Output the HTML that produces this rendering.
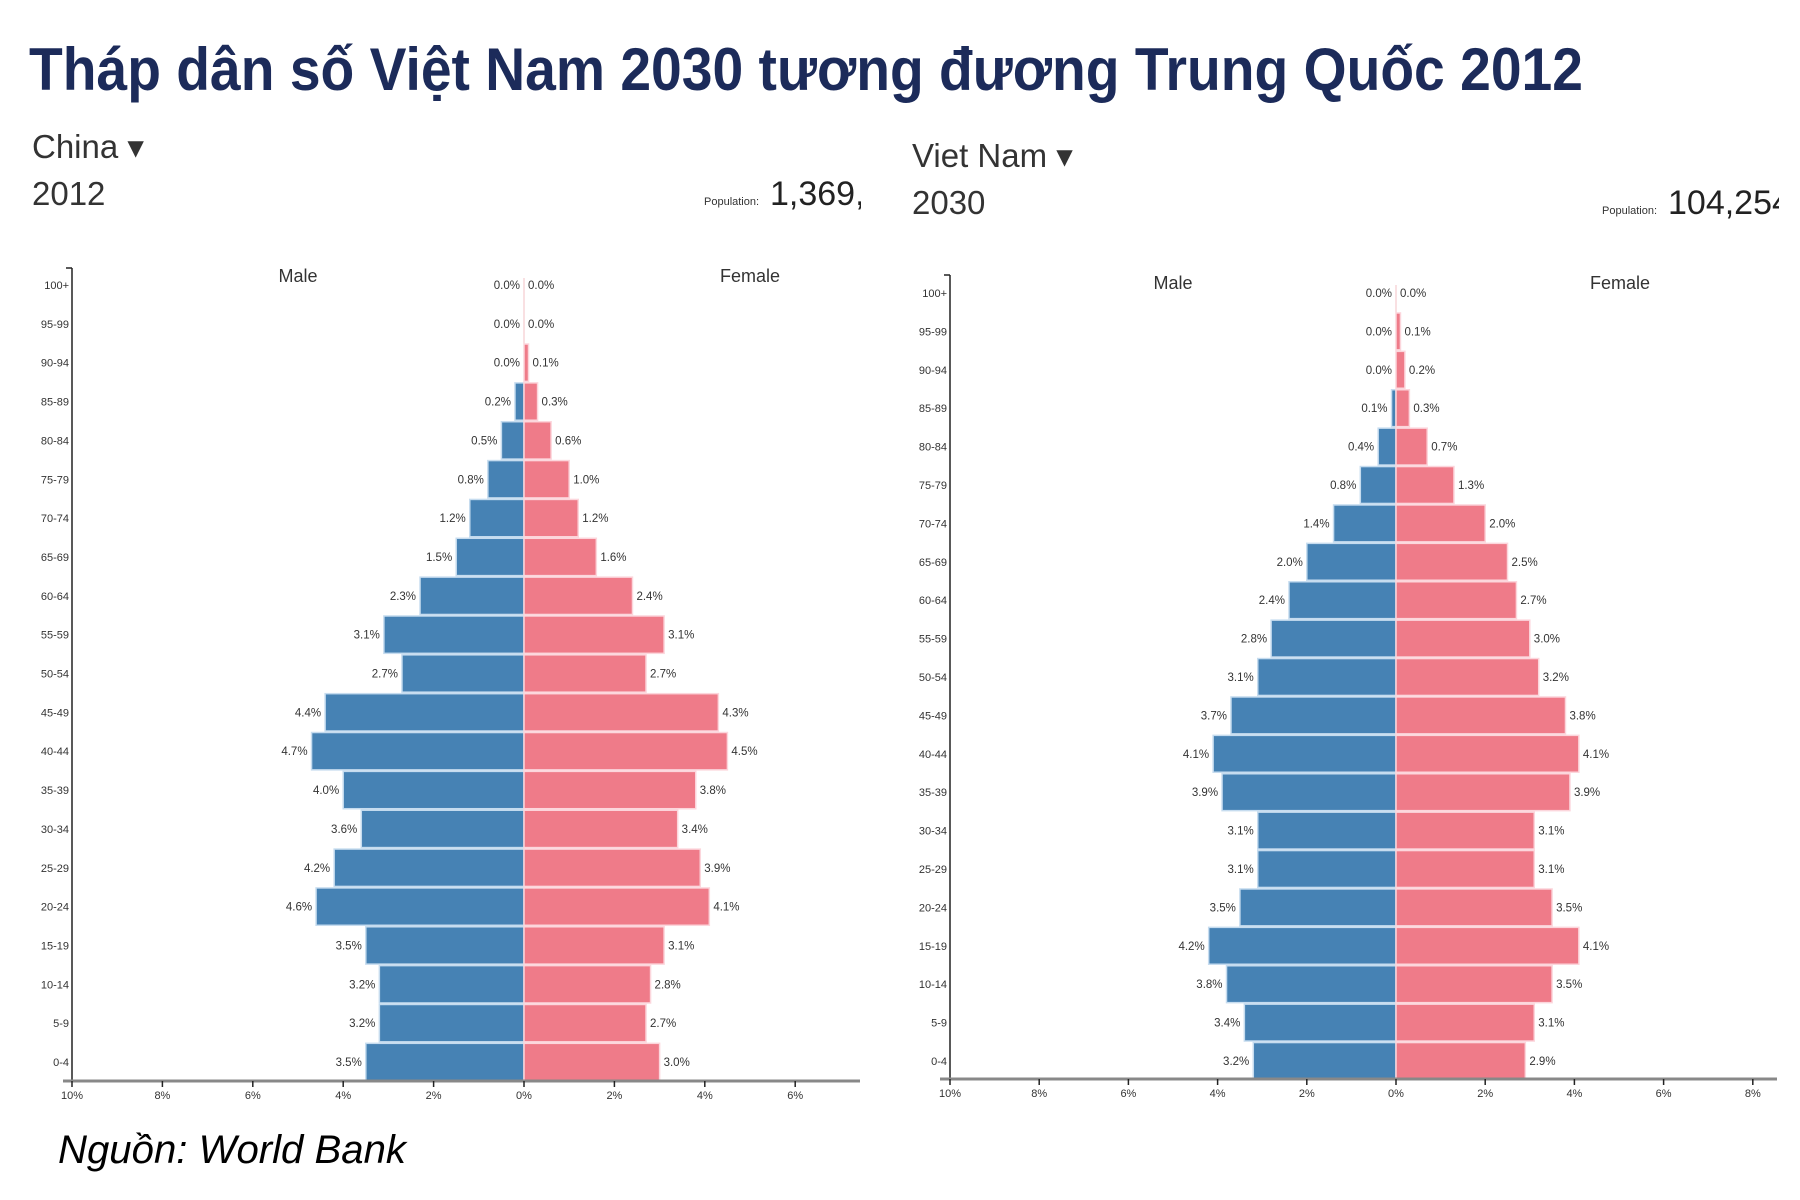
<!DOCTYPE html>
<html><head><meta charset="utf-8"><style>
html,body{margin:0;padding:0;background:#fff;width:1800px;height:1200px;overflow:hidden}
svg{display:block}
</style></head><body>
<svg id="s" width="1800" height="1200" xmlns="http://www.w3.org/2000/svg" font-family="Liberation Sans, DejaVu Sans, sans-serif">
<text x="29" y="90" font-size="60" font-weight="bold" fill="#1c2b5a" textLength="1554" lengthAdjust="spacingAndGlyphs">Tháp dân số Việt Nam 2030 tương đương Trung Quốc 2012</text>
<text x="58" y="1163" font-size="40" font-style="italic" fill="#000" textLength="348" lengthAdjust="spacingAndGlyphs">Nguồn: World Bank</text>
<g id="g"></g>
</svg>
<script>
const NS="http://www.w3.org/2000/svg";
const g=document.getElementById('g');
function el(t,a,txt){const e=document.createElementNS(NS,t);for(const k in a)e.setAttribute(k,a[k]);if(txt!==undefined)e.textContent=txt;g.appendChild(e);return e;}
const ages=["100+","95-99","90-94","85-89","80-84","75-79","70-74","65-69","60-64","55-59","50-54","45-49","40-44","35-39","30-34","25-29","20-24","15-19","10-14","5-9","0-4"];
const cn=[[0,0],[0,0],[0,0.1],[0.2,0.3],[0.5,0.6],[0.8,1.0],[1.2,1.2],[1.5,1.6],[2.3,2.4],[3.1,3.1],[2.7,2.7],[4.4,4.3],[4.7,4.5],[4.0,3.8],[3.6,3.4],[4.2,3.9],[4.6,4.1],[3.5,3.1],[3.2,2.8],[3.2,2.7],[3.5,3.0]];
const vn=[[0,0],[0,0.1],[0,0.2],[0.1,0.3],[0.4,0.7],[0.8,1.3],[1.4,2.0],[2.0,2.5],[2.4,2.7],[2.8,3.0],[3.1,3.2],[3.7,3.8],[4.1,4.1],[3.9,3.9],[3.1,3.1],[3.1,3.1],[3.5,3.5],[4.2,4.1],[3.8,3.5],[3.4,3.1],[3.2,2.9]];
function panel(o){
  el('text',{x:o.hx,y:o.hy,'font-size':33,fill:'#333'},o.name+' \u25BE');
  el('text',{x:o.hx,y:o.hy+47,'font-size':33,fill:'#333'},o.year);
  el('text',{x:o.px,y:o.hy+47,'font-size':11,fill:'#333'},'Population:');
  el('text',{x:o.px+66,y:o.hy+47,'font-size':34,fill:'#222'},o.pop);
  // y axis
  el('line',{x1:o.ax,y1:o.top,x2:o.ax,y2:o.axisY,stroke:'#222','stroke-width':1.5});
  el('line',{x1:o.ax-6,y1:o.top,x2:o.ax,y2:o.top,stroke:'#222','stroke-width':1.5});
  el('text',{x:o.zero-(o.zero-o.ax)*0.5,y:o.top+14,'font-size':18,fill:'#333','text-anchor':'middle'},'Male');
  el('text',{x:o.femX,y:o.top+14,'font-size':18,fill:'#333','text-anchor':'middle'},'Female');
  el('line',{x1:o.zero,y1:o.top+10,x2:o.zero,y2:o.axisY,stroke:'#f3c0c6','stroke-width':1});
  const s=o.sp;
  ages.forEach((a,i)=>{
    const cy=o.c0+i*o.rs, h=o.rs-1.5;
    const m=o.d[i][0], f=o.d[i][1];
    el('rect',{x:o.zero-m*s,y:cy-h/2,width:m*s,height:h,fill:'#4682b4',stroke:'#c6dcef','stroke-width':1.5});
    el('rect',{x:o.zero,y:cy-h/2,width:f*s,height:h,fill:'#ef7b89',stroke:'#fcd6dc','stroke-width':1.5});
    el('text',{x:o.ax-3,y:cy+4,'font-size':11,fill:'#333','text-anchor':'end'},a);
    el('text',{x:o.zero-m*s-4,y:cy+4,'font-size':11.5,fill:'#333','text-anchor':'end'},m.toFixed(1)+'%');
    el('text',{x:o.zero+f*s+4,y:cy+4,'font-size':11.5,fill:'#333'},f.toFixed(1)+'%');
  });
  el('line',{x1:o.xa0,y1:o.axisY,x2:o.xa1,y2:o.axisY,stroke:'#888','stroke-width':3});
  o.ticks.forEach(t=>{
    const x=o.zero+t*s;
    el('line',{x1:x,y1:o.axisY,x2:x,y2:o.axisY+6,stroke:'#222','stroke-width':1.5});
    el('text',{x:x,y:o.axisY+18,'font-size':11,fill:'#333','text-anchor':'middle'},Math.abs(t)+'%');
  });
}
panel({name:'China',year:'2012',pop:'1,369,',hx:32,hy:158,px:704,ax:72,top:268,axisY:1081,zero:524,sp:45.2,c0:285,rs:38.85,d:cn,femX:750,xa0:63,xa1:860,ticks:[-10,-8,-6,-4,-2,0,2,4,6]});
panel({name:'Viet Nam',year:'2030',pop:'104,254',hx:912,hy:167,px:1602,ax:950,top:275,axisY:1079,zero:1396,sp:44.6,c0:293,rs:38.4,d:vn,femX:1620,xa0:940,xa1:1777,ticks:[-10,-8,-6,-4,-2,0,2,4,6,8]});
// clip population numbers
const cl=document.createElementNS(NS,'rect');
cl.setAttribute('x',861);cl.setAttribute('y',170);cl.setAttribute('width',50);cl.setAttribute('height',50);cl.setAttribute('fill','#fff');g.appendChild(cl);
const cl2=document.createElementNS(NS,'rect');
cl2.setAttribute('x',1779);cl2.setAttribute('y',180);cl2.setAttribute('width',30);cl2.setAttribute('height',50);cl2.setAttribute('fill','#fff');g.appendChild(cl2);
</script>
</body></html>
